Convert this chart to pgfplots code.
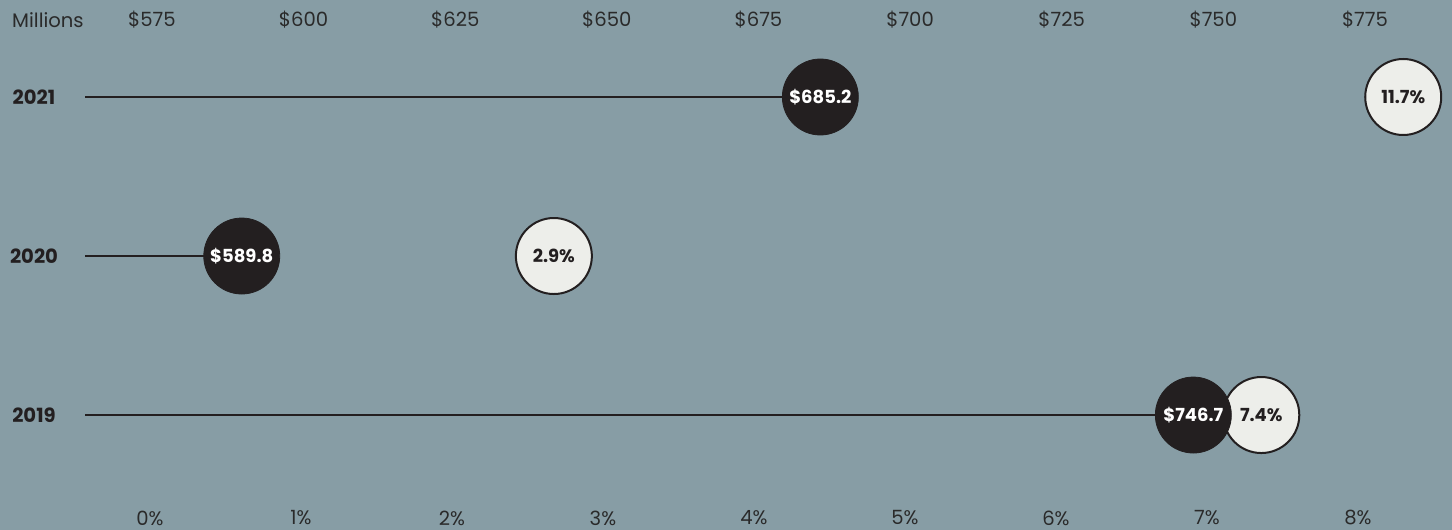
\documentclass[border=0pt]{standalone}
\usepackage{fontspec}
\setmainfont{Poppins}
\usepackage{pgfplots}
\pgfplotsset{compat=1.18}
\definecolor{bg}{HTML}{879DA5}
\definecolor{dark}{HTML}{231F20}
\definecolor{light}{HTML}{EDEEEA}
\definecolor{txt}{HTML}{2A2A2A}
\begin{document}
\begin{tikzpicture}
\fill[bg] (0,0) rectangle (726pt,265pt);
% percent axis (bottom) with the growth circles
\begin{axis}[
  at={(0,0)}, anchor=south west,
  scale only axis, width=726pt, height=265pt,
  xmin=-0.993, xmax=8.623, ymin=0.277, ymax=3.61,
  clip=false,
  axis line style={draw=none}, tick style={draw=none},
  xtick={0,1,2,3,4,5,6,7,8},
  xticklabels={0\%,1\%,2\%,3\%,4\%,5\%,6\%,7\%,8\%},
  xticklabel style={anchor=center, yshift=6pt, text=txt, font=\fontsize{9.8}{11}\selectfont},
  ytick=\empty,
]
\addplot[only marks, mark=*, mark size=19pt,
  mark options={fill=light, draw=dark, line width=1pt},
  nodes near coords, point meta=explicit symbolic,
  every node near coord/.style={anchor=center, text=dark, font=\bfseries\fontsize{9}{10}\selectfont}]
  coordinates {(8.30,3)[11.7\%] (2.675,2)[2.9\%] (7.36,1)[7.4\%]};
\end{axis}
% dollar axis (top) with lines and revenue circles
\begin{axis}[
  at={(0,0)}, anchor=south west,
  scale only axis, width=726pt, height=265pt,
  xmin=549.94, xmax=789.35, ymin=0.277, ymax=3.61,
  clip=false,
  axis line style={draw=none}, tick style={draw=none},
  xticklabel pos=upper,
  xtick={575,600,625,650,675,700,725,750,775},
  xticklabels={\$575,\$600,\$625,\$650,\$675,\$700,\$725,\$750,\$775},
  extra x ticks={557.85}, extra x tick labels={Millions},
  extra x tick style={xticklabel pos=upper},
  xticklabel style={anchor=center, yshift=-10pt, text=txt, font=\fontsize{9.8}{11}\selectfont},
  ytick={1,2,3}, yticklabels={2019,2020,2021},
  yticklabel style={anchor=center, xshift=17pt, text=dark, font=\bfseries\fontsize{9.8}{11}\selectfont},
]
\addplot[dark, line width=1.2pt] coordinates {(564,3) (685.2,3)};
\addplot[dark, line width=1.2pt] coordinates {(564,2) (589.8,2)};
\addplot[dark, line width=1.2pt] coordinates {(564,1) (746.7,1)};
\addplot[only marks, mark=*, mark size=19pt,
  mark options={fill=dark, draw=dark},
  nodes near coords, point meta=explicit symbolic,
  every node near coord/.style={anchor=center, text=white, font=\bfseries\fontsize{9}{10}\selectfont}]
  coordinates {(685.2,3)[\$685.2] (589.8,2)[\$589.8] (746.7,1)[\$746.7]};
\end{axis}
\pgfresetboundingbox
\path (0,0) rectangle (726pt,265pt);
\end{tikzpicture}
\end{document}
